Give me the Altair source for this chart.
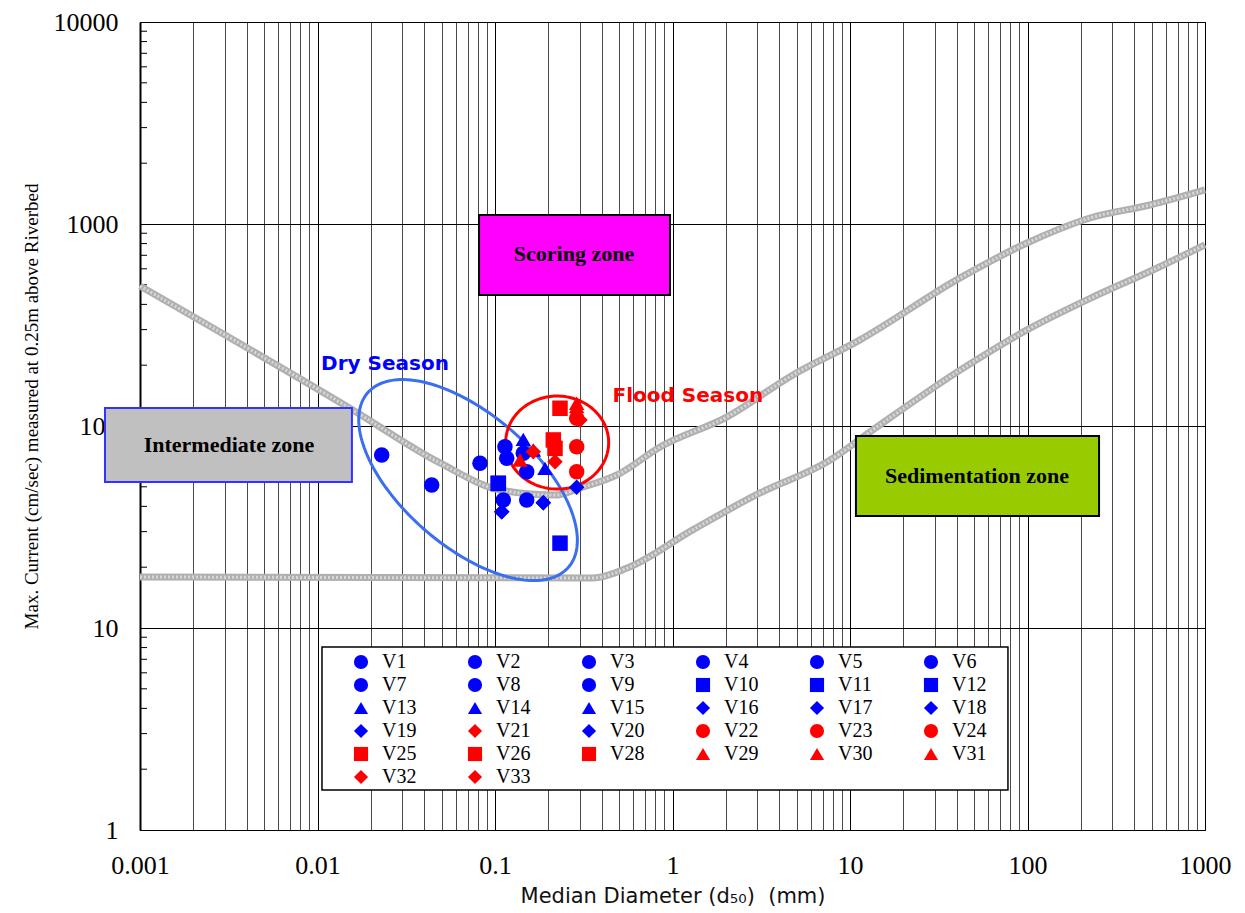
import altair as alt
import numpy as np
import pandas as pd

# ---------------- data ----------------
series = ["V1", "V2", "V3", "V4", "V5", "V6",
          "V7", "V8", "V9", "V10", "V11", "V12",
          "V13", "V14", "V15", "V16", "V17", "V18",
          "V19", "V21", "V20", "V22", "V23", "V24",
          "V25", "V26", "V28", "V29", "V30", "V31",
          "V32", "V33"]
shapes = ["circle"] * 9 + ["square"] * 3 + ["triangle-up"] * 3 + ["diamond"] * 3 + \
         ["diamond", "diamond", "diamond"] + ["circle"] * 3 + ["square"] * 3 + \
         ["triangle-up"] * 3 + ["diamond"] * 2
colors = ["#0000ff"] * 19 + ["#ff0000", "#0000ff"] + ["#ff0000"] * 11
d50 = [0.0230, 0.0440, 0.0823, 0.1138, 0.1164, 0.1443,
       0.1509, 0.1114, 0.1509, 0.1044, 0.2324, 0.1044,
       0.1443, 0.1913, 0.1644, 0.1091, 0.1871, 0.2885,
       0.1091, 0.1644, 0.1871, 0.2885, 0.2885, 0.2885,
       0.2324, 0.2131, 0.2178, 0.2885, 0.1383, 0.2885,
       0.2178, 0.3013]
vmax = [71.8, 51.0, 65.4, 79.0, 69.2, 73.3,
        59.4, 43.0, 43.0, 52.0, 26.3, 52.0,
        85.9, 61.7, 76.1, 37.6, 41.7, 49.7,
        37.6, 74.6, 41.7, 109.2, 79.0, 59.4,
        122.4, 85.3, 77.5, 129.6, 67.9, 125.0,
        66.6, 107.1]

# boundary curves
upper_d50 = [0.001, 0.0158, 0.049, 0.107, 0.218, 0.301, 0.5, 0.851, 2.03, 4.77, 11.4, 41.7, 99.3, 225, 490, 1000]
upper_v = [493, 120, 65.6, 48.2, 45.5, 49.3, 58.0, 78.7, 111, 179, 267, 541, 805, 1071, 1242, 1474]
lower_d50 = [0.001, 0.356, 0.555, 1.30, 3.11, 7.41, 14.2, 41.7, 99.3, 234, 509, 1000]
lower_v = [17.9, 17.7, 19.8, 30.6, 46.6, 66.3, 99.0, 189, 299, 435, 592, 788]

# zone boxes (data coordinates)
zone_names = ["Scoring zone", "Intermediate zone", "Sedimentation zone"]
zone_x1 = [0.0813, 0.000635, 10.8]
zone_x2 = [0.968, 0.01563, 253]
zone_y1 = [445, 52.8, 35.8]
zone_y2 = [1108, 122.8, 89.2]
zone_tx = [0.2786, 0.00317, 51.9]
zone_ty = [710, 80.5, 56.6]
zone_fill = ["#ff00ff", "#c0c0c0", "#99cc00"]
zone_stroke = ["#000000", "#3333ff", "#000000"]

season_names = ["Dry Season", "Flood Season"]
season_x = [0.024, 1.22]
season_y = [203, 140.8]
season_color = ["#0000ff", "#ff0000"]

# legend frame box (data coordinates)
legbox_x = [0.01060, 77.6]
legbox_y = [1.578, 8.05]

# axis tick values
x_ticks = [m * 10.0 ** e for e in range(-3, 3) for m in range(1, 10)] + [1000]
y_ticks = [m * 10.0 ** e for e in range(0, 4) for m in range(1, 10)] + [10000]
y_minor = [m * 10.0 ** e for e in range(0, 4) for m in range(2, 10)]

# ---------------- geometry ----------------
W, H = 1065, 808
PXX, PXY = W / 6, H / 4


def ellipse(cx, cy, a, b, theta_deg, n=160):
    t = np.linspace(0, 2 * np.pi, n)
    th = np.radians(theta_deg)
    dx = a * np.cos(t) * np.cos(th) - b * np.sin(t) * np.sin(th)
    dy = a * np.cos(t) * np.sin(th) + b * np.sin(t) * np.cos(th)
    lx = np.log10(cx) + dx / PXX
    ly = np.log10(cy) - dy / PXY
    return 10 ** lx, 10 ** ly


ex1, ey1 = ellipse(0.0705, 54.0, 133, 66, 41)
ex2, ey2 = ellipse(0.224, 82.8, 51.5, 46.5, 0)
ell = pd.DataFrame({
    "x": np.concatenate([ex1, ex2]),
    "y": np.concatenate([ey1, ey2]),
    "k": ["dry"] * len(ex1) + ["flood"] * len(ex2),
    "i": list(range(len(ex1))) + list(range(len(ex2))),
})

MAJ = "abs(log(datum.value)/LN10 - round(log(datum.value)/LN10)) < 0.001"

xscale = alt.Scale(type="log", domain=[0.001, 1000], nice=False)
yscale = alt.Scale(type="log", domain=[1, 10000], nice=False)

xaxis = alt.Axis(
    values=x_ticks, labelExpr=f"{MAJ} ? format(datum.value, '~g') : ''",
    grid=True, gridColor={"condition": {"test": MAJ, "value": "#000000"}, "value": "#4a4a4a"},
    gridWidth=1, ticks=False, domainColor="black", domainWidth=1,
    labelFont="Liberation Serif", labelFontSize=26, labelColor="black", labelPadding=22,
    labelFlush=False, labelOverlap=False,
    title="Median Diameter (d\u2085\u2080)\u00a0\u00a0(mm)", titleFont="DejaVu Sans", titleFontSize=21,
    titleFontWeight="normal", titleColor="#111111", titleBaseline="alphabetic", titleY=72,
)
yaxis = alt.Axis(
    values=y_ticks, labelExpr=f"{MAJ} ? format(datum.value, '~g') : ''",
    grid=True, gridColor="black",
    gridOpacity={"condition": {"test": MAJ, "value": 1}, "value": 0},
    ticks=False, domainColor="black", domainWidth=2,
    labelFont="Liberation Serif", labelFontSize=26, labelColor="black", labelPadding=22,
    labelFlush=False, labelOverlap=False,
    title="Max. Current (cm/sec) measured at 0.25m above Riverbed",
    titleFont="Liberation Serif", titleFontSize=19, titleFontWeight="normal", titleColor="black",
    titleAngle=270, titleX=-109, titleY=384, titleAlign="center", titleBaseline="middle",
)


def X(f):
    return alt.X(f, scale=xscale, axis=xaxis)


def Y(f):
    return alt.Y(f, scale=yscale, axis=yaxis)


# ---------------- layers ----------------
pts_df = pd.DataFrame({"series": series, "d50": d50, "v": vmax, "idx": range(len(series))})
leg = alt.Legend(
    title=None, orient="none", legendX=211, legendY=630, columns=6, direction="horizontal",
    gridAlign="all", columnPadding=48, rowPadding=3, symbolSize=200, symbolStrokeWidth=0,
    symbolOpacity=1, labelFont="Liberation Serif", labelFontSize=20, labelColor="black",
    labelOffset=11, padding=0, labelLimit=200, symbolLimit=0,
)

minor_ticks = alt.Chart(pd.DataFrame({"t": y_minor})).mark_rule(color="black", strokeWidth=1).encode(
    y=Y("t:Q"),
    x=alt.value(0), x2=alt.value(7),
)

curve_df = pd.DataFrame({
    "x": upper_d50 + lower_d50,
    "y": upper_v + lower_v,
    "c": ["upper"] * len(upper_d50) + ["lower"] * len(lower_d50),
})
curve_base = alt.Chart(curve_df).mark_line(color="#b0b0b0", strokeWidth=7, interpolate="monotone").encode(
    x=X("x:Q"), y=Y("y:Q"), detail="c:N",
)
curve_tex = alt.Chart(curve_df).mark_line(color="#d8d8d8", strokeWidth=3, strokeDash=[2, 2],
                                          interpolate="monotone").encode(
    x=X("x:Q"), y=Y("y:Q"), detail="c:N",
)

zone_df = pd.DataFrame({"name": zone_names, "x1": zone_x1, "x2": zone_x2, "y1": zone_y1, "y2": zone_y2,
                        "tx": zone_tx, "ty": zone_ty, "fill": zone_fill, "stroke": zone_stroke})
zones = alt.Chart(zone_df).mark_rect(strokeWidth=2).encode(
    x=X("x1:Q"), x2="x2:Q",
    y=Y("y1:Q"), y2="y2:Q",
    fill=alt.Fill("fill:N", scale=None), stroke=alt.Stroke("stroke:N", scale=None),
)
zone_text = alt.Chart(zone_df).mark_text(font="Liberation Serif", fontSize=22, fontWeight="bold",
                                         color="black", baseline="middle", align="center").encode(
    x=X("tx:Q"), y=Y("ty:Q"), text="name:N",
)

season_df = pd.DataFrame({"name": season_names, "x": season_x, "y": season_y, "c": season_color})
season_text = alt.Chart(season_df).mark_text(font="DejaVu Sans", fontSize=20, fontWeight="bold",
                                             baseline="middle", align="center").encode(
    x=X("x:Q"), y=Y("y:Q"), text="name:N",
    color=alt.Color("c:N", scale=None),
)

ellipses = alt.Chart(ell).mark_line(strokeWidth=3).encode(
    x=X("x:Q"), y=Y("y:Q"),
    detail="k:N",
    order="i:Q",
    stroke=alt.Stroke("k:N", scale=alt.Scale(domain=["dry", "flood"], range=["#3b6ff0", "#ff0000"]),
                      legend=None),
)

legbox = alt.Chart(pd.DataFrame({"x1": [legbox_x[0]], "x2": [legbox_x[1]],
                                 "y1": [legbox_y[0]], "y2": [legbox_y[1]]})).mark_rect(
    fill="white", stroke="black", strokeWidth=1.5).encode(
    x=X("x1:Q"), x2="x2:Q",
    y=Y("y1:Q"), y2="y2:Q",
)

points = alt.Chart(pts_df).mark_point(filled=True, size=240, opacity=1, strokeWidth=0).encode(
    x=X("d50:Q"), y=Y("v:Q"),
    fill=alt.Fill("series:N", scale=alt.Scale(domain=series, range=colors), legend=leg),
    shape=alt.Shape("series:N", scale=alt.Scale(domain=series, range=shapes), legend=leg),
    order=alt.Order("idx:Q"),
)

chart = alt.layer(
    minor_ticks, curve_base, curve_tex, legbox, zones, zone_text,
    ellipses, season_text, points,
).properties(
    width=W, height=H,
    autosize=alt.AutoSizeParams(type="none"),
    padding={"left": 132, "top": 14, "right": 30, "bottom": 80},
    background="white",
).configure_view(stroke="black", strokeWidth=1)

chart.save("out.html", embed_options={"renderer": "svg", "actions": False})
